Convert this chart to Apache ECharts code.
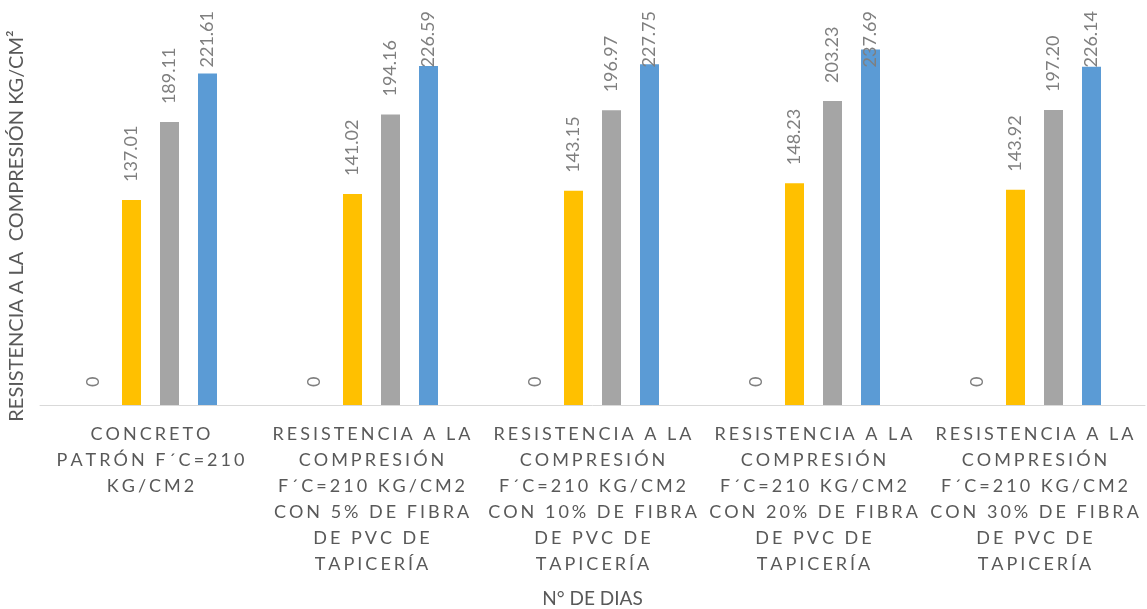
<!DOCTYPE html>
<html>
<head>
<meta charset="utf-8">
<script src="https://cdn.jsdelivr.net/npm/echarts@6/dist/echarts.min.js"></script>
<style>
html,body{margin:0;padding:0;background:#fff;}
#chart{width:1147px;height:609px;}
</style>
</head>
<body>
<div id="chart"></div>
<script>
const categories = [
  "CONCRETO\nPATRÓN F´C=210\nKG/CM2",
  "RESISTENCIA A LA\nCOMPRESIÓN\nF´C=210 KG/CM2\nCON 5% DE FIBRA\nDE PVC DE\nTAPICERÍA",
  "RESISTENCIA A LA\nCOMPRESIÓN\nF´C=210 KG/CM2\nCON 10% DE FIBRA\nDE PVC DE\nTAPICERÍA",
  "RESISTENCIA A LA\nCOMPRESIÓN\nF´C=210 KG/CM2\nCON 20% DE FIBRA\nDE PVC DE\nTAPICERÍA",
  "RESISTENCIA A LA\nCOMPRESIÓN\nF´C=210 KG/CM2\nCON 30% DE FIBRA\nDE PVC DE\nTAPICERÍA"
];
const seriesNames = ["0 días", "7 días", "14 días", "28 días"];
const day0 = [0, 0, 0, 0, 0];
const day7 = [137.01, 141.02, 143.15, 148.23, 143.92];
const day14 = [189.11, 194.16, 196.97, 203.23, 197.20];
const day28 = [221.61, 226.59, 227.75, 237.69, 226.14];
const colors = ["#4472C4", "#FFC000", "#A5A5A5", "#5B9BD5"];
const allData = [day0, day7, day14, day28];

const LABEL_DIST = 18;
const LABEL_TOP_MIN = 11;
const LABEL_FONT = 18;
const AXIS_MAX = 250;

function spaced(s) {
  return s.split('\n').map(line => line.split('').join('\u2006')).join('\n');
}
function fmt(v) { return v === 0 ? '0' : v.toFixed(2); }

const chart = echarts.init(document.getElementById('chart'));
const gridOpt = { left: 40, right: 2, top: 31, bottom: 204, containLabel: false, outerBoundsMode: 'none' };

// per-item label distance so that labels near the top stay inside the chart
const ctx = document.createElement('canvas').getContext('2d');
ctx.font = LABEL_FONT + 'px Lato';
const plotBottom = 609 - gridOpt.bottom;
const plotH = 609 - gridOpt.top - gridOpt.bottom;
function items(d) {
  return d.map(v => {
    const top = plotBottom - v / AXIS_MAX * plotH;
    const len = ctx.measureText(fmt(v)).width;
    const labelTop = top - LABEL_DIST - len;
    const dist = labelTop < LABEL_TOP_MIN ? LABEL_DIST - (LABEL_TOP_MIN - labelTop) : LABEL_DIST;
    return { value: v, label: { distance: dist } };
  });
}

const option = {
  animation: false,
  backgroundColor: '#ffffff',
  grid: gridOpt,
  xAxis: {
    type: 'category',
    data: categories,
    axisLine: { lineStyle: { color: '#D9D9D9', width: 1 } },
    axisTick: { show: false },
    axisLabel: {
      interval: 0,
      margin: 16,
      color: '#595959',
      fontFamily: 'Lato',
      fontSize: 18,
      lineHeight: 26,
      formatter: v => spaced(v)
    },
    name: 'N° DE DIAS',
    nameLocation: 'middle',
    nameGap: 184,
    nameTextStyle: { color: '#595959', fontFamily: 'Lato', fontSize: 19 }
  },
  yAxis: {
    type: 'value',
    min: 0,
    max: AXIS_MAX,
    axisLine: { show: false },
    axisTick: { show: false },
    axisLabel: { show: false },
    splitLine: { show: false },
    name: 'RESISTENCIA A LA  COMPRESIÓN KG/CM²',
    nameLocation: 'middle',
    nameGap: 13,
    nameTextStyle: { color: '#595959', fontFamily: 'Lato', fontSize: 20, padding: [0, 16, 0, 0] }
  },
  series: allData.map((d, i) => ({
    name: seriesNames[i],
    type: 'bar',
    data: items(d),
    barWidth: 19,
    barGap: '100%',
    itemStyle: { color: colors[i] },
    label: {
      show: true,
      position: 'top',
      rotate: 90,
      align: 'left',
      verticalAlign: 'middle',
      distance: LABEL_DIST,
      color: '#7F7F7F',
      fontFamily: 'Lato',
      fontSize: LABEL_FONT,
      formatter: p => fmt(p.value)
    }
  }))
};
chart.setOption(option);
</script>
</body>
</html>
